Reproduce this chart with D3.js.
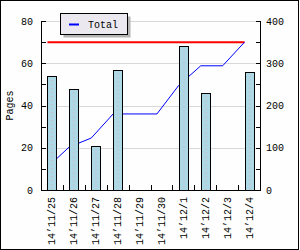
<!DOCTYPE html>
<meta charset="utf-8">
<script src="https://d3js.org/d3.v7.min.js"></script>
<style>
  body { margin: 0; background: #fff; }
  text { font-family: "Liberation Mono", monospace; font-size: 10px; fill: #000; }
</style>
<body>
<script>
// Chart data
const days = ["14’11/25", "14’11/26", "14’11/27", "14’11/28", "14’11/29",
              "14’11/30", "14’12/1", "14’12/2", "14’12/3", "14’12/4"];
const pages = [54, 48, 21, 57, 0, 0, 68, 46, 0, 56];
const runningTotal = [54, 102, 123, 180, 180, 180, 248, 294, 294, 350];
const targetTotal = 350;
const leftTicks = [0, 20, 40, 60, 80];
const rightTicks = [0, 100, 200, 300, 400];

// Plot box
const plotLeft = 41, plotRight = 260, plotTop = 21, plotBottom = 190;
const barW = 9;

const svg = d3.select("body").append("svg")
    .attr("width", 300)
    .attr("height", 250);

// Background and frame
svg.append("rect")
    .attr("x", 0.5).attr("y", 0.5)
    .attr("width", 298).attr("height", 249)
    .attr("fill", "#fdfefd")
    .attr("stroke", "#000");

const x = d3.scaleBand().domain(days).range([plotLeft, plotRight]);
const yL = d3.scaleLinear().domain([0, 80]).range([plotBottom, plotTop]);
const yR = d3.scaleLinear().domain([0, 400]).range([plotBottom, plotTop]);

// Gridlines
svg.selectAll(".grid")
    .data(leftTicks.filter(d => d > 0))
    .enter().append("line")
    .attr("x1", plotLeft).attr("x2", plotRight)
    .attr("y1", d => Math.round(yL(d)) + 0.5)
    .attr("y2", d => Math.round(yL(d)) + 0.5)
    .attr("stroke", "#d8d8d8");

// Target line (red) and running total (blue), drawn behind the bars
const px = d => x(d) + x.bandwidth() / 2 - barW / 2;

svg.append("line")
    .attr("x1", px(days[0])).attr("x2", px(days[days.length - 1]))
    .attr("y1", yR(targetTotal)).attr("y2", yR(targetTotal))
    .attr("stroke", "#ff0000")
    .attr("stroke-width", 2);

svg.append("path")
    .datum(runningTotal)
    .attr("fill", "none")
    .attr("stroke", "#0000ff")
    .attr("stroke-width", 1)
    .attr("d", d3.line().x((d, i) => px(days[i])).y(d => yR(d)));

// Bars
const bars = svg.selectAll(".bar")
    .data(pages.map((v, i) => ({day: days[i], v: v})).filter(d => d.v > 0))
    .enter().append("g");

bars.append("rect")
    .attr("x", d => Math.round(px(d.day)) + 0.5)
    .attr("y", d => Math.round(yL(d.v)) + 0.5)
    .attr("width", barW)
    .attr("height", d => Math.round(plotBottom) - Math.round(yL(d.v)))
    .attr("fill", "#add8e6")
    .attr("stroke", "#000");

bars.append("line")
    .attr("x1", d => Math.round(px(d.day)) + 5)
    .attr("x2", d => Math.round(px(d.day)) + 5)
    .attr("y1", d => yL(d.v) + 4)
    .attr("y2", plotBottom)
    .attr("stroke", "#e8a8a8")
    .attr("stroke-dasharray", "1,3");

// Axes
svg.append("line")
    .attr("x1", plotLeft + 0.5).attr("x2", plotLeft + 0.5)
    .attr("y1", plotTop).attr("y2", plotBottom + 0.5)
    .attr("stroke", "#000");
svg.append("line")
    .attr("x1", plotRight + 0.5).attr("x2", plotRight + 0.5)
    .attr("y1", plotTop).attr("y2", plotBottom + 0.5)
    .attr("stroke", "#000");
svg.append("line")
    .attr("x1", plotLeft).attr("x2", plotRight + 1)
    .attr("y1", plotBottom + 0.5).attr("y2", plotBottom + 0.5)
    .attr("stroke", "#000");

// Left ticks (major + minor, pointing inward)
d3.range(0, 81, 10).forEach(v => {
    const y = Math.round(yL(v)) + 0.5;
    svg.append("line").attr("x1", plotLeft).attr("x2", plotLeft + 5)
        .attr("y1", y).attr("y2", y).attr("stroke", "#000");
});
d3.range(0, 401, 50).forEach(v => {
    const y = Math.round(yR(v)) + 0.5;
    svg.append("line").attr("x1", plotRight - 4).attr("x2", plotRight + 1)
        .attr("y1", y).attr("y2", y).attr("stroke", "#000");
});
// Bottom ticks at band edges
days.slice(1).forEach(d => {
    const xx = Math.round(x(d)) + 0.5;
    svg.append("line").attr("x1", xx).attr("x2", xx)
        .attr("y1", plotBottom - 5).attr("y2", plotBottom).attr("stroke", "#000");
});

// Tick labels
svg.selectAll(".ly").data(leftTicks).enter().append("text")
    .attr("x", 33).attr("y", d => yL(d))
    .attr("dy", "0.35em")
    .attr("text-anchor", "end")
    .text(d => d);

svg.selectAll(".ry").data(rightTicks).enter().append("text")
    .attr("x", 266).attr("y", d => yR(d))
    .attr("dy", "0.35em")
    .text(d => d);

svg.selectAll(".lx").data(days).enter().append("text")
    .attr("transform", d => `translate(${x(d) + x.bandwidth() / 2},197) rotate(-90)`)
    .attr("dy", "0.35em")
    .attr("text-anchor", "end")
    .text(d => d);

svg.append("text")
    .attr("transform", `translate(9,${(plotTop + plotBottom) / 2}) rotate(-90)`)
    .attr("dy", "0.35em")
    .attr("text-anchor", "middle")
    .text("Pages");

// Legend
svg.append("rect")
    .attr("x", 63.5).attr("y", 16.5).attr("width", 67).attr("height", 21)
    .attr("fill", "#b4b4b4");
svg.append("rect")
    .attr("x", 60.5).attr("y", 13.5).attr("width", 67).attr("height", 21)
    .attr("fill", "#ebe9ef")
    .attr("stroke", "#000");
svg.append("line")
    .attr("x1", 69).attr("x2", 79).attr("y1", 24.5).attr("y2", 24.5)
    .attr("stroke", "#0000ff").attr("stroke-width", 2);
svg.append("text")
    .attr("x", 88).attr("y", 24.5)
    .attr("dy", "0.35em")
    .text("Total");
</script>
</body>
